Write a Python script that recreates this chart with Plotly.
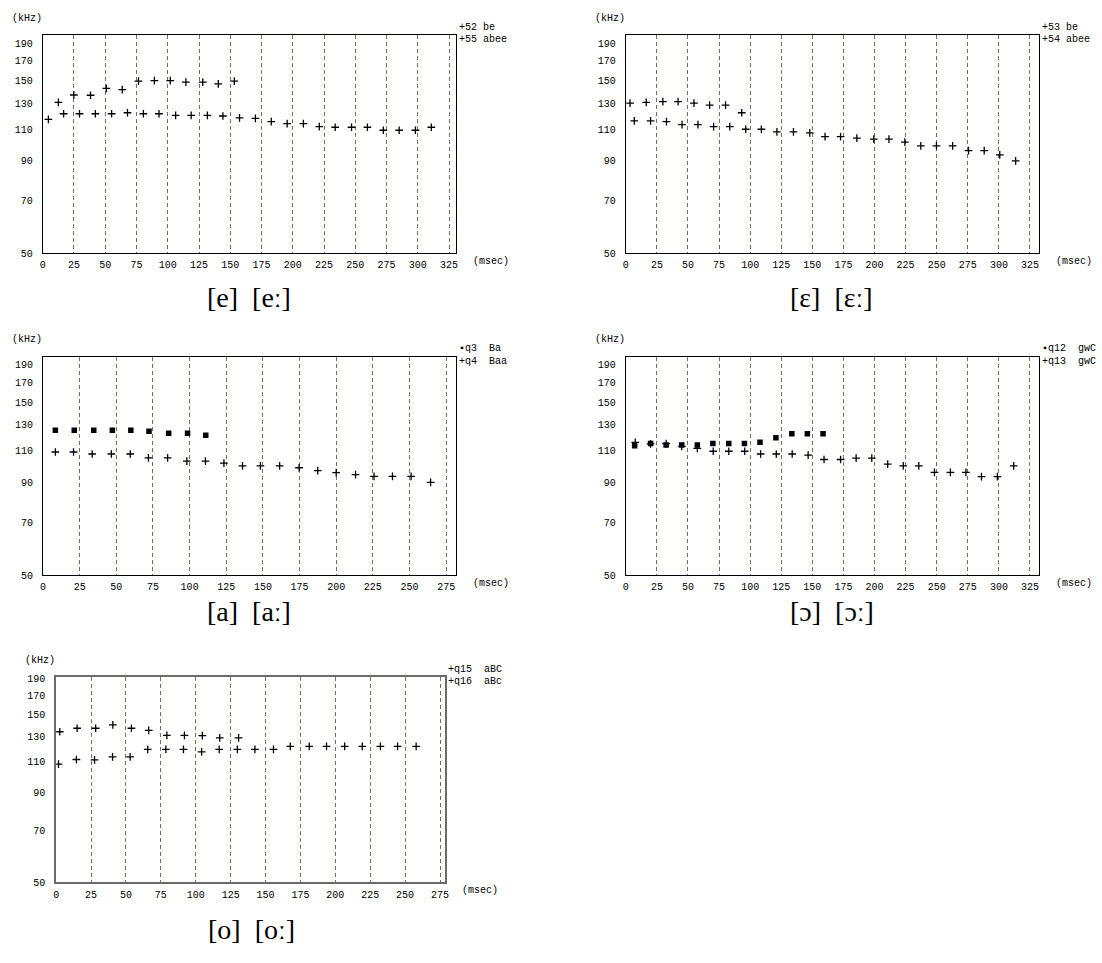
import math
import plotly.graph_objects as go

# ---------------- data ----------------
# [e] [e:]
e_be_x = [12.5, 24.9, 38.2, 50.9, 63.6, 76.6, 89.3, 102.0, 114.5, 128.0, 140.4, 153.2]
e_be_y = [130.6, 136.8, 136.6, 142.7, 141.5, 149.4, 150.0, 150.0, 148.5, 148.5, 146.9, 149.4]
e_abee_x = [4.5, 16.7, 29.4, 42.1, 55.1, 67.8, 80.5, 93.0, 106.3, 118.7, 131.7, 144.1, 157.4,
            170.1, 182.8, 195.5, 208.5, 221.2, 233.9, 247.0, 259.7, 272.4, 285.1, 298.1, 310.8]
e_abee_y = [117.2, 121.4, 121.4, 121.4, 121.4, 122.2, 121.4, 121.4, 120.1, 120.1, 120.1, 119.7, 118.2,
            117.9, 115.5, 114.0, 114.0, 111.9, 111.4, 111.4, 111.4, 109.3, 109.3, 109.3, 111.4]

# [ɛ] [ɛ:]
eps_be_x = [3.4, 16.4, 29.8, 42.0, 54.8, 67.4, 80.2, 93.2]
eps_be_y = [129.9, 130.6, 131.2, 131.2, 129.9, 128.2, 128.2, 122.2]
eps_abee_x = [6.8, 19.9, 32.7, 45.2, 58.0, 70.6, 83.6, 96.4, 109.0, 121.5, 134.8, 147.9, 160.2,
              172.7, 185.8, 199.4, 211.6, 224.4, 237.2, 249.8, 262.8, 275.6, 288.2, 300.7, 313.5]
eps_abee_y = [116.0, 116.0, 115.5, 113.3, 113.3, 111.9, 111.9, 110.0, 110.0, 108.2, 108.2, 107.5, 104.9,
              104.9, 104.0, 103.3, 103.3, 101.4, 98.9, 98.9, 98.9, 96.0, 96.0, 93.4, 89.9]

# [a] [a:]
a_q3_x = [8.4, 21.3, 34.6, 47.3, 59.9, 72.3, 85.7, 98.6, 111.0]
a_q3_y = [125.4, 125.4, 125.4, 125.4, 125.4, 124.6, 123.0, 123.0, 121.5]
a_q4_x = [8.4, 20.8, 33.5, 46.6, 59.5, 71.9, 85.0, 98.1, 110.8, 123.4, 136.1, 148.3, 161.4,
          174.7, 187.4, 200.0, 213.2, 225.8, 238.4, 251.1, 264.4]
a_q4_y = [109.3, 109.3, 107.9, 107.9, 107.9, 105.3, 105.3, 103.1, 103.1, 101.8, 100.1, 100.1, 100.1,
          98.9, 97.1, 95.9, 94.7, 93.7, 93.6, 93.6, 90.1]

# [ɔ] [ɔ:]
o_q12_x = [7.1, 19.9, 32.4, 45.0, 57.5, 70.0, 82.8, 95.4, 107.9, 120.7, 133.5, 146.0, 158.6]
o_q12_y = [113.7, 115.4, 114.2, 114.2, 114.2, 115.4, 115.4, 115.4, 116.3, 119.6, 122.6, 122.6, 122.6]
o_q13_x = [7.6, 19.9, 32.4, 45.0, 57.5, 70.3, 82.8, 95.6, 108.4, 121.0, 133.8, 146.6, 159.4,
           172.7, 185.2, 197.8, 210.6, 223.1, 235.6, 248.2, 261.0, 273.5, 286.0, 298.8, 311.9]
o_q13_y = [116.1, 115.0, 115.2, 113.2, 111.8, 109.8, 109.8, 109.8, 107.9, 107.9, 107.9, 107.2, 104.2,
           104.2, 105.1, 105.1, 101.2, 100.1, 100.1, 96.1, 96.1, 96.1, 93.5, 93.5, 100.1]

# [o] [o:]
oo_q15_x = [2.6, 15.0, 28.3, 40.6, 53.9, 66.3, 79.3, 91.9, 104.7, 117.2, 130.7]
oo_q15_y = [133.7, 136.8, 136.8, 139.8, 136.8, 135.0, 130.5, 130.5, 130.3, 128.5, 128.5]
oo_q16_x = [1.7, 14.5, 27.5, 40.4, 53.0, 65.6, 78.6, 91.2, 104.2, 116.8, 129.8, 142.4, 155.7,
            167.7, 181.3, 193.7, 206.7, 219.3, 232.3, 244.6, 257.9]
oo_q16_y = [108.2, 111.5, 111.3, 113.4, 113.4, 119.2, 119.2, 119.2, 117.2, 119.2, 119.2, 119.2, 119.2,
            121.5, 121.5, 121.5, 121.5, 121.5, 121.5, 121.5, 121.5]

y_ticks = [50, 70, 90, 110, 130, 150, 170, 190]
x_ticks_325 = [0, 25, 50, 75, 100, 125, 150, 175, 200, 225, 250, 275, 300, 325]
x_ticks_275 = [0, 25, 50, 75, 100, 125, 150, 175, 200, 225, 250, 275]

captions = ["[e]  [eː]", "[ɛ]  [ɛː]", "[a]  [aː]", "[ɔ]  [ɔː]", "[o]  [oː]"]
legend_texts = [["+52 be", "+55 abee"], ["+53 be", "+54 abee"], ["▪q3  Ba", "+q4  Baa"],
                ["▪q12  gwC", "+q13  gwC"], ["+q15  aBC", "+q16  aBc"]]

# ---------------- layout helpers ----------------
W, H = 1102, 963


def px(x):
    return x / W


def py(y):
    return 1 - y / H


panels = [
    dict(box=(40, 31.7, 455.7, 252), xmax=330.4, ymax=200, ticks=x_ticks_325, frame="black", fw=1),
    dict(box=(626.8, 31.7, 1042.3, 252), xmax=332.0, ymax=200, ticks=x_ticks_325, frame="black", fw=1),
    dict(box=(40.3, 356.7, 455.7, 578), xmax=281.6, ymax=200, ticks=x_ticks_275, frame="black", fw=1),
    dict(box=(626.8, 356.7, 1042.3, 578), xmax=332.0, ymax=200, ticks=x_ticks_325, frame="black", fw=1),
    dict(box=(53.5, 681, 445, 888.3), xmax=278.7, ymax=191, ticks=x_ticks_275, frame="#6a6a6a", fw=2),
]

series = [
    [(e_be_x, e_be_y, "cross"), (e_abee_x, e_abee_y, "cross")],
    [(eps_be_x, eps_be_y, "cross"), (eps_abee_x, eps_abee_y, "cross")],
    [(a_q3_x, a_q3_y, "square"), (a_q4_x, a_q4_y, "cross")],
    [(o_q12_x, o_q12_y, "square"), (o_q13_x, o_q13_y, "cross")],
    [(oo_q15_x, oo_q15_y, "cross"), (oo_q16_x, oo_q16_y, "cross")],
]

caption_pos = [(248, 297), (834, 297), (248, 615), (834, 615), (250, 936)]

GRID = "#77724a"
TICKFONT = dict(family="Liberation Mono, DejaVu Sans Mono, monospace", size=10, color="black")
SMALLFONT = dict(family="Liberation Mono, DejaVu Sans Mono, monospace", size=10, color="black")

fig = go.Figure()
layout = dict(
    width=W, height=H, margin=dict(l=0, r=0, t=0, b=0),
    paper_bgcolor="white", plot_bgcolor="white", showlegend=False,
)
annotations = []

for i, p in enumerate(panels):
    n = "" if i == 0 else str(i + 1)
    l, t, r, b = p["box"]
    layout["xaxis" + n] = dict(
        domain=[px(l), px(r)], anchor="y" + n, range=[0, p["xmax"]],
        tickvals=p["ticks"], ticktext=[str(v) for v in p["ticks"]],
        showgrid=True, gridcolor=GRID, gridwidth=1, griddash="4px,3px",
        showline=True, mirror=True, linecolor=p["frame"], linewidth=p["fw"],
        zeroline=False, ticks="", tickfont=TICKFONT, ticklabelstandoff=2,
        fixedrange=True,
    )
    layout["yaxis" + n] = dict(
        domain=[py(b), py(t)], anchor="x" + n, type="log",
        range=[math.log10(50), math.log10(p["ymax"])],
        tickvals=y_ticks, ticktext=[str(v) for v in y_ticks],
        showgrid=False, showline=True, mirror=True, linecolor=p["frame"], linewidth=p["fw"],
        zeroline=False, ticks="", tickfont=TICKFONT, ticklabelstandoff=7,
        fixedrange=True,
    )
    for xs, ys, sym in series[i]:
        if sym == "square":
            marker = dict(symbol="square", size=5.5, color="black", line=dict(width=0))
        else:
            marker = dict(symbol="cross-thin", size=5.5, color="black", line=dict(width=1.3, color="black"))
        fig.add_trace(go.Scatter(x=xs, y=ys, mode="markers", marker=marker,
                                 xaxis="x" + n, yaxis="y" + n, hoverinfo="skip"))
    annotations.append(dict(text="(kHz)", x=px(l - 33), y=py(t - 17), xref="paper", yref="paper",
                            xanchor="left", yanchor="middle", showarrow=False, font=SMALLFONT))
    annotations.append(dict(text="(msec)", x=px(r + 15), y=py(b + 8), xref="paper", yref="paper",
                            xanchor="left", yanchor="middle", showarrow=False, font=SMALLFONT))
    for k, txt in enumerate(legend_texts[i]):
        annotations.append(dict(text=txt, x=px(r + 1), y=py(t - 8 + 12.5 * k), xref="paper", yref="paper",
                                xanchor="left", yanchor="middle", showarrow=False, font=SMALLFONT))
    cx, cy = caption_pos[i]
    annotations.append(dict(text=captions[i], x=px(cx), y=py(cy), xref="paper", yref="paper",
                            xanchor="center", yanchor="middle", showarrow=False,
                            font=dict(family="Liberation Serif, DejaVu Serif, serif", size=28, color="black")))

layout["annotations"] = annotations
fig.update_layout(**layout)
fig.write_html("out.html")
